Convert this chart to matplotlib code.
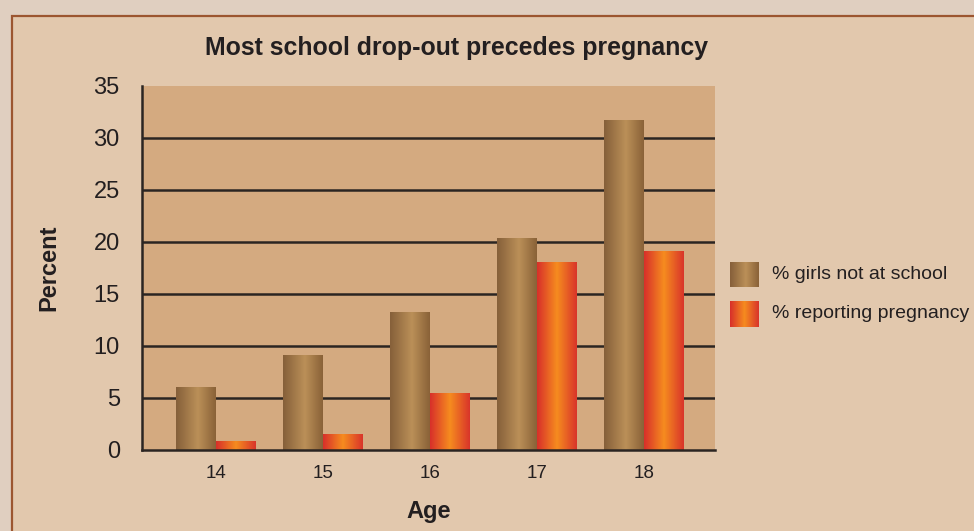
import numpy as np
import matplotlib
matplotlib.use("Agg")
import matplotlib.pyplot as plt
from matplotlib.patches import Rectangle
from matplotlib.colors import LinearSegmentedColormap

plt.rcParams['font.family'] = ['Liberation Sans', 'DejaVu Sans']

ages = ["14", "15", "16", "17", "18"]
not_at_school = [6.0, 9.1, 13.2, 20.3, 31.7]
pregnancy = [0.8, 1.5, 5.4, 18.0, 19.1]
series_names = ["% girls not at school", "% reporting pregnancy"]
title = "Most school drop-out precedes pregnancy"
yticks = [0, 5, 10, 15, 20, 25, 30, 35]

brown_cmap = LinearSegmentedColormap.from_list(
    "brown", [(0, "#86603a"), (0.55, "#bb9058"), (1, "#8a6238")])
orange_cmap = LinearSegmentedColormap.from_list(
    "orange", [(0, "#d8302a"), (0.5, "#f68c1f"), (1, "#d9352a")])
grad = np.linspace(0, 1, 64).reshape(1, -1)

fig = plt.figure(figsize=(9.74, 5.31), dpi=100)
fig.patch.set_facecolor("#e0cfc0")
# framed panel
fig.patches.append(Rectangle((12 / 974, -0.1), 1.1, (531 - 16) / 531 + 0.1,
                             transform=fig.transFigure, facecolor="#e2c8ad",
                             edgecolor="#9c5630", linewidth=1.6, zorder=-5))

ax = fig.add_axes([142 / 974, 81 / 531, 573 / 974, 364 / 531])
ax.set_facecolor("#d4aa80")
x = np.arange(len(ages))
w = 0.37
b1 = ax.bar(x - w / 2, not_at_school, w, color="none", zorder=3)
b2 = ax.bar(x + w / 2, pregnancy, w, color="none", zorder=3)
for bars, cmap in ((b1, brown_cmap), (b2, orange_cmap)):
    for p in bars:
        x0, y0 = p.get_x(), p.get_y()
        ax.imshow(grad, cmap=cmap, aspect="auto", zorder=3,
                  extent=(x0, x0 + p.get_width(), y0, y0 + p.get_height()))

ax.set_xlim(-0.69, 4.665)
ax.set_ylim(0, 35)
ax.set_yticks(yticks)
ax.set_yticklabels([str(v) for v in yticks], fontsize=17, color="#231f20")
ax.set_xticks(x)
ax.set_xticklabels(ages, fontsize=13.5, color="#231f20")
ax.tick_params(axis="both", length=0)
ax.tick_params(axis="y", pad=16)
ax.tick_params(axis="x", pad=11)
for v in yticks[1:-1]:
    ax.axhline(v, color="#2b2522", lw=1.8, zorder=1)
for s in ("top", "right"):
    ax.spines[s].set_visible(False)
for s in ("left", "bottom"):
    ax.spines[s].set_color("#2b2522")
    ax.spines[s].set_linewidth(1.8)
    ax.spines[s].set_zorder(4)

ax.set_xlabel("Age", fontsize=17, fontweight="bold", color="#231f20", labelpad=13)
ax.set_ylabel("Percent", fontsize=17, fontweight="bold", color="#231f20", labelpad=24)
fig.text(457 / 974, 1 - 48 / 531, title, fontsize=17.9, fontweight="bold",
         color="#231f20", ha="center", va="center")

# legend
for i, (name, cmap) in enumerate(zip(series_names, (brown_cmap, orange_cmap))):
    yc = [274.5, 314][i]
    lax = fig.add_axes([730 / 974, 1 - (yc + 13) / 531, 29 / 974, 26 / 531])
    lax.imshow(grad, cmap=cmap, aspect="auto")
    lax.axis("off")
    fig.text(772 / 974, 1 - yc / 531, name, fontsize=14.0, color="#231f20",
             ha="left", va="center")

fig.savefig("out.png", dpi=100, facecolor=fig.get_facecolor())
